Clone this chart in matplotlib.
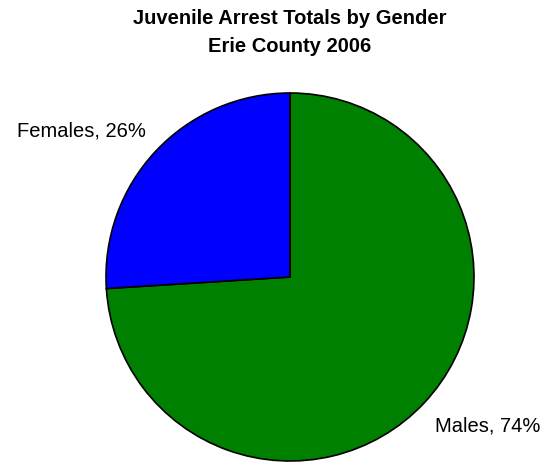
import matplotlib
matplotlib.use('Agg')
from matplotlib import pyplot as plt

plt.rcParams['font.family'] = ['Liberation Sans', 'DejaVu Sans']

labels = ['Males', 'Females']
shares = [74, 26]
colors = ['#008000', '#0000FF']

W, H = 548, 464
fig = plt.figure(figsize=(W / 100, H / 100), dpi=100)

# pie centre (290, 278) px from top-left, radius ~184 px
cx, cy, r = 290, 278, 184
ax = fig.add_axes([(cx - r) / W, (H - cy - r) / H, 2 * r / W, 2 * r / H])
ax.pie(shares, colors=colors, startangle=90, counterclock=False,
       wedgeprops={'edgecolor': 'black', 'linewidth': 1.2})
ax.set_xlim(-1, 1)
ax.set_ylim(-1, 1)
ax.set_aspect('equal')
ax.axis('off')

fig.text(290 / W, 1 - 19 / H, 'Juvenile Arrest Totals by Gender', ha='center', va='center',
         fontsize=14.5, fontweight='bold')
fig.text(290 / W, 1 - 46 / H, 'Erie County 2006', ha='center', va='center',
         fontsize=14.5, fontweight='bold')

fig.text(81 / W, 1 - 131 / H, f'{labels[1]}, {shares[1]}%', ha='center', va='center', fontsize=14.5)
fig.text(488 / W, 1 - 426 / H, f'{labels[0]}, {shares[0]}%', ha='center', va='center', fontsize=14.5)

plt.savefig('out.png', dpi=100)
